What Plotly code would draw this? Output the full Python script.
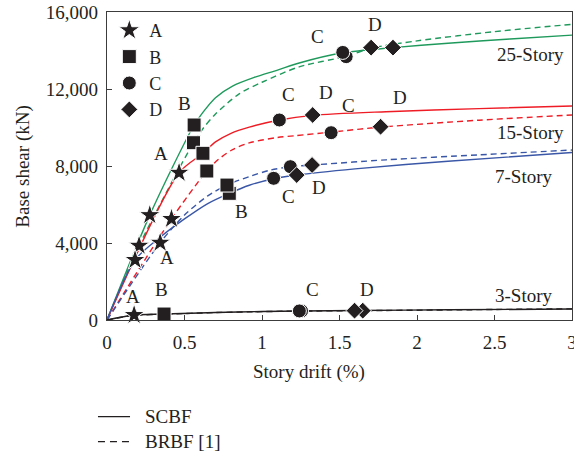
import plotly.graph_objects as go

# ---- pushover curves: story drift (%) vs base shear (kN) ----
s25_scbf_x = [0, 0.276, 0.562, 0.62, 0.7, 0.81, 0.95, 1.1, 1.24, 1.521, 1.845, 2.2, 2.6, 3.0]
s25_scbf_y = [0, 5450, 10130, 10800, 11550, 12150, 12600, 12980, 13350, 13880, 14150, 14380, 14600, 14800]
s25_brbf_x = [0, 0.207, 0.558, 0.62, 0.7, 0.853, 1.0, 1.24, 1.543, 1.704, 2.0, 2.5, 3.0]
s25_brbf_y = [0, 3860, 9210, 9950, 10700, 11750, 12350, 13150, 13700, 14120, 14500, 14980, 15360]

s15_scbf_x = [0, 0.465, 0.619, 0.7, 0.8, 0.918, 1.112, 1.327, 1.8, 2.4, 3.0]
s15_scbf_y = [0, 7650, 8660, 9250, 9700, 10020, 10390, 10630, 10820, 10980, 11120]
s15_brbf_x = [0, 0.416, 0.644, 0.72, 0.81, 0.918, 1.1, 1.22, 1.446, 1.765, 2.4, 3.0]
s15_brbf_y = [0, 5250, 7740, 8350, 8850, 9200, 9480, 9580, 9760, 10020, 10380, 10650]

s7_scbf_x = [0, 0.181, 0.343, 0.5, 0.65, 0.789, 0.918, 1.075, 1.224, 1.6, 2.2, 3.0]
s7_scbf_y = [0, 3120, 4300, 5250, 6050, 6580, 7000, 7340, 7530, 7850, 8250, 8700]
s7_brbf_x = [0, 0.343, 0.5, 0.65, 0.774, 0.918, 1.05, 1.183, 1.323, 1.8, 2.4, 3.0]
s7_brbf_y = [0, 4016, 5450, 6450, 7010, 7450, 7780, 7965, 8050, 8320, 8580, 8830]

s3_scbf_x = [0, 0.175, 0.368, 0.7, 1.0, 1.241, 1.6, 2.2, 3.0]
s3_scbf_y = [0, 260, 310, 390, 440, 470, 490, 530, 570]
s3_brbf_x = [0, 0.175, 0.368, 0.7, 1.0, 1.255, 1.65, 2.2, 3.0]
s3_brbf_y = [0, 240, 300, 385, 435, 465, 485, 525, 580]

# ---- performance points A-D on each curve ----
pt_a_x = [0.276, 0.207, 0.465, 0.416, 0.181, 0.343, 0.175]
pt_a_y = [5450, 3860, 7650, 5250, 3120, 4016, 260]
pt_b_x = [0.562, 0.558, 0.619, 0.644, 0.789, 0.774, 0.368]
pt_b_y = [10130, 9210, 8660, 7740, 6580, 7010, 310]
pt_c_x = [1.543, 1.521, 1.112, 1.446, 1.075, 1.183, 1.255, 1.241]
pt_c_y = [13680, 13900, 10390, 9730, 7360, 7965, 470, 470]
pt_d_x = [1.845, 1.704, 1.327, 1.765, 1.224, 1.323, 1.65, 1.597]
pt_d_y = [14150, 14150, 10650, 10040, 7530, 8050, 485, 485]

# ---- point-label text placed beside the markers ----
lbl_text = ["A", "B", "A", "B", "A", "B", "C", "D", "C", "D", "C", "D", "C", "D", "C", "D"]
lbl_x = [0.349, 0.498, 0.388, 0.868, 0.170, 0.354, 1.36, 1.732, 1.172, 1.414, 1.56, 1.888, 1.17, 1.37, 1.327, 1.676]
lbl_y = [8675, 11270, 3270, 5630, 1210, 1590, 14720, 15360, 11690, 11810, 11120, 11550, 6440, 6860, 1560, 1560]

story_names = ["25-Story", "15-Story", "7-Story", "3-Story"]
story_y = [13770, 9730, 7480, 1250]
story_shift = [-6, -6, -17, -17]

x_ticks = [0, 0.5, 1, 1.5, 2, 2.5, 3]
y_ticks = [0, 4000, 8000, 12000, 16000]

GREEN = "#1f9a5c"
RED = "#ee1c25"
BLUE = "#3a57a7"
BLACK = "#231f20"
FONT = "Liberation Serif"
DASH = "6px,4px"

curves = [
    (s25_scbf_x, s25_scbf_y, GREEN, "solid"),
    (s25_brbf_x, s25_brbf_y, GREEN, DASH),
    (s15_scbf_x, s15_scbf_y, RED, "solid"),
    (s15_brbf_x, s15_brbf_y, RED, DASH),
    (s7_scbf_x, s7_scbf_y, BLUE, "solid"),
    (s7_brbf_x, s7_brbf_y, BLUE, DASH),
    (s3_scbf_x, s3_scbf_y, BLACK, "solid"),
    (s3_brbf_x, s3_brbf_y, BLACK, DASH),
]

fig = go.Figure()
for cx, cy, col, dash in curves:
    fig.add_trace(go.Scatter(
        x=cx, y=cy, mode="lines", showlegend=False, hoverinfo="skip",
        line=dict(color=col, width=1.4, dash=dash, shape="spline", smoothing=0.8),
    ))

points = [
    ("A", pt_a_x, pt_a_y, "star", 16),
    ("B", pt_b_x, pt_b_y, "square", 14),
    ("C", pt_c_x, pt_c_y, "circle", 14),
    ("D", pt_d_x, pt_d_y, "diamond", 13),
]
for name, px, py, sym, size in points:
    fig.add_trace(go.Scatter(
        x=px, y=py, mode="markers", name=name, cliponaxis=False,
        marker=dict(symbol=sym, size=size, color=BLACK, line=dict(color="white", width=1)),
    ))

annotations = []
for t, lx, ly in zip(lbl_text, lbl_x, lbl_y):
    annotations.append(dict(x=lx, y=ly, text=t, showarrow=False,
                            xanchor="center", yanchor="middle",
                            font=dict(family=FONT, size=19, color=BLACK)))
for name, sy, sh in zip(story_names, story_y, story_shift):
    annotations.append(dict(x=3, y=sy, text=name, showarrow=False, xanchor="right",
                            yanchor="middle", xshift=sh,
                            font=dict(family=FONT, size=19, color=BLACK)))

# axis titles
annotations.append(dict(x=0.4344, y=-0.169, xref="paper", yref="paper", text="Story drift (%)",
                        xanchor="center", yanchor="middle", showarrow=False,
                        font=dict(family=FONT, size=19, color=BLACK)))
annotations.append(dict(x=-0.1806, y=0.498, xref="paper", yref="paper", text="Base shear (kN)",
                        xanchor="center", yanchor="middle", textangle=-90, showarrow=False,
                        font=dict(family=FONT, size=19, color=BLACK)))

# line-style key below the chart
key_rows = [("SCBF", "solid", -0.314), ("BRBF [1]", "7px,5px", -0.395)]
shapes = []
for label, dash, ky in key_rows:
    shapes.append(dict(type="line", xref="paper", yref="paper", x0=-0.0194, x1=0.0495,
                       y0=ky, y1=ky, line=dict(color=BLACK, width=1.2, dash=dash)))
    annotations.append(dict(x=0.0766, y=ky, xref="paper", yref="paper", text=label,
                            xanchor="left", yanchor="middle", showarrow=False,
                            font=dict(family=FONT, size=19, color=BLACK)))

axis_common = dict(showline=True, mirror=True, linecolor="#3c3c3c", linewidth=1.2,
                   ticks="inside", ticklen=5, tickcolor="#3c3c3c", showgrid=False,
                   zeroline=False, ticklabeloverflow="allow", automargin=False,
                   tickfont=dict(family=FONT, size=19, color=BLACK))

fig.update_layout(
    width=574, height=456,
    margin=dict(l=107, r=2, t=12, b=136),
    paper_bgcolor="white", plot_bgcolor="white",
    xaxis=dict(range=[0, 3], tickvals=x_ticks, ticklabelstandoff=5, **axis_common),
    yaxis=dict(range=[0, 16000], tickvals=y_ticks, tickformat=",d", ticklabelstandoff=4, **axis_common),
    showlegend=True,
    legend=dict(x=0.005, y=1.0, xanchor="left", yanchor="top", bgcolor="rgba(0,0,0,0)",
                font=dict(family=FONT, size=18, color=BLACK), tracegroupgap=0),
    annotations=annotations,
    shapes=shapes,
)

fig.write_html("out.html")
